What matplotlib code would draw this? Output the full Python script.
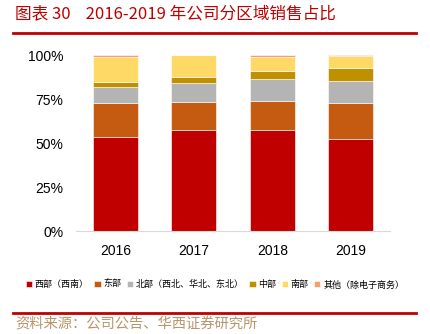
import matplotlib
matplotlib.use("Agg")
import matplotlib.pyplot as plt
import numpy as np
from matplotlib.lines import Line2D

plt.rcParams['font.family'] = ['Noto Sans CJK SC', 'DejaVu Sans']

# data (cumulative tops, converted to shares)
years = ['2016', '2017', '2018', '2019']
labels = ['西部（西南）', '东部', '北部（西北、华北、东北）', '中部', '南部', '其他（除电子商务）']
colors = ['#C00000', '#C55A11', '#B4B4B4', '#BF9000', '#FFD966', '#F4A06A']
west = [0.532, 0.574, 0.574, 0.521]
east = [0.194, 0.161, 0.163, 0.205]
north = [0.090, 0.108, 0.127, 0.128]
central = [0.031, 0.032, 0.045, 0.074]
south = [0.143, 0.123, 0.081, 0.066]
other = [0.010, 0.002, 0.010, 0.006]
series = [west, east, north, central, south, other]

fig = plt.figure(figsize=(4.3, 3.34), dpi=100)
ax = fig.add_axes([0.177, 0.308, 0.73, 0.527])

x = np.arange(len(years))
bottom = np.zeros(len(years))
for vals, lab, col in zip(series, labels, colors):
    ax.bar(x, vals, 0.57, bottom=bottom, color=col, label=lab,
           edgecolor='white', linewidth=0.4)
    bottom += np.array(vals)

ax.set_xlim(-0.5, 3.5)
ax.set_ylim(0, 1.0)
ax.set_yticks([0, 0.25, 0.5, 0.75, 1.0])
ax.set_yticklabels(['0%', '25%', '50%', '75%', '100%'], family='Liberation Sans', fontsize=10)
ax.set_xticks(x)
ax.set_xticklabels(years, family='Liberation Sans', fontsize=10)
ax.tick_params(length=0)
ax.tick_params(axis='x', pad=9)
ax.tick_params(axis='y', pad=9)
for s in ['top', 'right', 'left']:
    ax.spines[s].set_visible(False)
ax.spines['bottom'].set_color('#D9D9D9')

# title + rules
fig.text(0.035, 0.96, '图表 30    2016-2019 年公司分区域销售占比', color='#C00000',
         fontsize=12, va='center', ha='left')
fig.add_artist(Line2D([0.03, 0.967], [0.901, 0.901], color='#C00000', lw=2))
fig.add_artist(Line2D([0.03, 0.967], [0.064, 0.064], color='#C00000', lw=2))
fig.text(0.035, 0.029, '资料来源：公司公告、华西证券研究所', color='#B8956A',
         fontsize=10.3, va='center', ha='left')

leg = fig.legend(loc='center', bbox_to_anchor=(0.5, 0.147), ncol=6, frameon=False,
                 fontsize=6.5, handlelength=0.7, handleheight=0.7, handletextpad=0.3,
                 columnspacing=0.6)

fig.savefig('out.png', dpi=100)
